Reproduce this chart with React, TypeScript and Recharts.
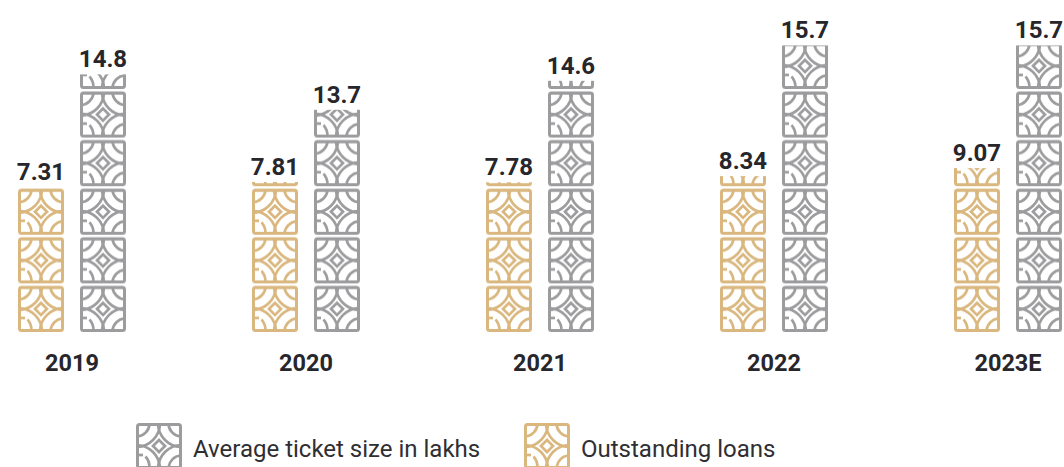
import { BarChart, Bar, XAxis, YAxis, LabelList, Legend } from "recharts";

const years = ["2019", "2020", "2021", "2022", "2023E"];
const outstandingLoans = [7.31, 7.81, 7.78, 8.34, 9.07];
const ticketSize = [14.8, 13.7, 14.6, 15.7, 15.7];

const GOLD = "#d9b77e";
const GREY = "#9c9c9e";
const INK = "#27262b";
const FONT = "Roboto, sans-serif";
const TILE_W = 46;
const TILE_H = 48.6;

const chartData = years.map((year, i) => ({
  year,
  loans: outstandingLoans[i],
  ticket: ticketSize[i],
}));

// one square of the lattice ornament, 46 wide
function TileArt({ color }: { color: string }) {
  return (
    <g fill="none" stroke={color} strokeWidth={2.7}>
      <rect x={1.5} y={1.5} width={43} height={43} rx={2} strokeWidth={3} />
      <path d="M23 17 L29 23 L23 29 L17 23 Z" />
      {/* big arcs around each corner, they cross into the star */}
      <path d="M24 1.5 A24 24 0 0 1 1.5 24" />
      <path d="M22 1.5 A24 24 0 0 0 44.5 24" />
      <path d="M24 44.5 A24 24 0 0 0 1.5 22" />
      <path d="M22 44.5 A24 24 0 0 1 44.5 22" />
      {/* small corner arcs, the lower left one is broken */}
      <path d="M13.5 1.5 A13.5 13.5 0 0 1 1.5 13.5" />
      <path d="M32.5 1.5 A13.5 13.5 0 0 0 44.5 13.5" />
      <path d="M32.5 44.5 A13.5 13.5 0 0 1 44.5 32.5" />
      <path d="M1.5 32 L7 32" />
      <path d="M9.5 33.5 Q13.5 38 13.5 44.5" />
    </g>
  );
}

function Defs() {
  return (
    <defs>
      {[
        ["tilesGold", GOLD],
        ["tilesGrey", GREY],
      ].map(([id, color]) => (
        <pattern
          key={id}
          id={id}
          patternUnits="userSpaceOnUse"
          x={0}
          y={-TILE_H}
          width={TILE_W}
          height={TILE_H}
        >
          <g transform={`translate(0 ${TILE_H - 46})`}>
            <TileArt color={color} />
          </g>
        </pattern>
      ))}
    </defs>
  );
}

// bar body: tiles stack up from the axis, cut off at the value
function TiledBar(props: any) {
  const { x, y, width, background, patternId } = props;
  const bottom = background.y + background.height;
  return (
    <g transform={`translate(${x} ${bottom})`}>
      <rect
        x={0}
        y={y - bottom}
        width={width}
        height={bottom - y}
        fill={`url(#${patternId})`}
      />
    </g>
  );
}

function LegendRow({ payload }: any) {
  return (
    <div style={{ position: "relative", height: 46, fontFamily: FONT }}>
      {(payload ?? []).map((item: any, i: number) => (
        <div
          key={item.value}
          style={{
            position: "absolute",
            left: i === 0 ? 181 : 569,
            top: 0,
            display: "flex",
            alignItems: "center",
            height: 46,
            whiteSpace: "nowrap",
          }}
        >
          <svg width={46} height={46} style={{ marginRight: 11 }}>
            <TileArt color={item.color} />
          </svg>
          <span style={{ fontSize: 24, color: "#2f2e33", position: "relative", top: 3 }}>
            {item.value}
          </span>
        </div>
      ))}
    </div>
  );
}

const valueLabel = {
  position: "top" as const,
  offset: 7,
  fill: INK,
  fontFamily: FONT,
  fontSize: 24,
  fontWeight: 700,
};

export default function App() {
  return (
    <div
      style={{
        position: "fixed",
        left: 0,
        top: 0,
        width: 1064,
        height: 467,
        overflow: "hidden",
        background: "#fff",
      }}
    >
      <div style={{ position: "absolute", left: -45, top: 0 }}>
        <BarChart
          width={1170}
          height={467}
          data={chartData}
          margin={{ top: 0, right: 0, bottom: 31, left: 0 }}
          barSize={46}
          barGap={16}
        >
          <Defs />
          <XAxis
            dataKey="year"
            axisLine={false}
            tickLine={false}
            interval={0}
            tickMargin={16}
            height={60}
            tick={{ fill: INK, fontFamily: FONT, fontSize: 23.5, fontWeight: 700 }}
          />
          {/* each series sits on its own hidden value axis */}
          <YAxis yAxisId="loans" hide domain={[-5.83, 24.35]} />
          <YAxis yAxisId="ticket" hide domain={[6.8, 17.11]} />
          <Bar
            yAxisId="loans"
            dataKey="loans"
            name="Outstanding loans"
            fill={GOLD}
            isAnimationActive={false}
            shape={<TiledBar patternId="tilesGold" />}
          >
            <LabelList dataKey="loans" {...valueLabel} />
          </Bar>
          <Bar
            yAxisId="ticket"
            dataKey="ticket"
            name="Average ticket size in lakhs"
            fill={GREY}
            isAnimationActive={false}
            shape={<TiledBar patternId="tilesGrey" />}
          >
            <LabelList dataKey="ticket" {...valueLabel} />
          </Bar>
          <Legend
            content={<LegendRow />}
            wrapperStyle={{ left: 0, bottom: 0, top: 423, width: 1170 }}
          />
        </BarChart>
      </div>
    </div>
  );
}
